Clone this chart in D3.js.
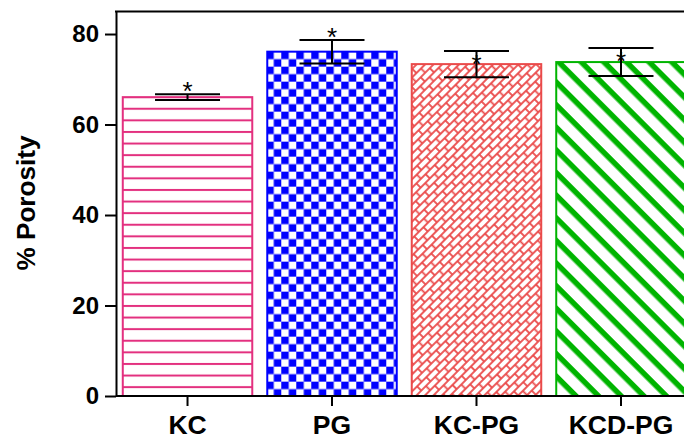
<!DOCTYPE html>
<html>
<head>
<meta charset="utf-8">
<script src="https://cdn.jsdelivr.net/npm/d3@7/dist/d3.min.js"></script>
<style>
  html, body { margin: 0; padding: 0; background: #fff; }
  svg { display: block; }
</style>
</head>
<body>
<div id="chart"></div>
<script>
// ---- data ----
const categories = ["KC", "PG", "KC-PG", "KCD-PG"];
const porosity   = [66.05, 76.1, 73.35, 73.8];
const errors     = [0.65, 2.6, 2.9, 3.1];
const starLevels = [68.6, 80.5, 74.6, 75.1];
const yTicks     = [0, 20, 40, 60, 80];
const yLabel     = "% Porosity";

// ---- layout ----
const W = 684, H = 441;
const svg = d3.select("#chart").append("svg").attr("width", W).attr("height", H);
const font = "'Liberation Sans', Arial, Helvetica, sans-serif";

const y = d3.scaleLinear().domain([0, 85]).range([396, 11.4]);
const x = d3.scaleBand().domain(categories).range([116, 692.5]).paddingInner(0.09).paddingOuter(0.04);

const colors = ["#e3307f", "#0000ff", "#ea4a4a", "#00b400"];
const defs = svg.append("defs");

function barX(i) { return x(categories[i]); }
function barY(i) { return y(porosity[i]); }

// pattern 0: horizontal lines
{
  const p = defs.append("pattern").attr("id", "pat0").attr("patternUnits", "userSpaceOnUse")
    .attr("x", barX(0)).attr("y", barY(0)).attr("width", 20).attr("height", 11.6);
  p.append("rect").attr("width", 20).attr("height", 11.6).attr("fill", "#fff");
  p.append("rect").attr("x", 0).attr("y", -1).attr("width", 20).attr("height", 2).attr("fill", colors[0]);
  p.append("rect").attr("x", 0).attr("y", 10.6).attr("width", 20).attr("height", 2).attr("fill", colors[0]);
}
// pattern 1: checkerboard
{
  const s = 7.5;
  const p = defs.append("pattern").attr("id", "pat1").attr("patternUnits", "userSpaceOnUse")
    .attr("x", barX(1)).attr("y", barY(1)).attr("width", 2 * s).attr("height", 2 * s);
  p.append("rect").attr("width", 2 * s).attr("height", 2 * s).attr("fill", "#fff");
  p.append("rect").attr("x", 0).attr("y", 0).attr("width", s).attr("height", s).attr("fill", colors[1]);
  p.append("rect").attr("x", s).attr("y", s).attr("width", s).attr("height", s).attr("fill", colors[1]);
}
// pattern 2: diagonal bricks
{
  const bw = 13, bh = 12;
  const p = defs.append("pattern").attr("id", "pat2").attr("patternUnits", "userSpaceOnUse")
    .attr("x", barX(2)).attr("y", barY(2)).attr("width", bw).attr("height", bh)
    .attr("patternTransform", "rotate(-45)");
  p.append("rect").attr("width", bw).attr("height", bh).attr("fill", "#fff");
  const segs = [[0, 0, bw, 0], [0, bh / 2, bw, bh / 2], [0, bh, bw, bh], [1, 0, 1, bh / 2], [1 + bw / 2, bh / 2, 1 + bw / 2, bh]];
  segs.forEach(s => {
    p.append("line").attr("x1", s[0]).attr("y1", s[1]).attr("x2", s[2]).attr("y2", s[3])
      .attr("stroke", colors[2]).attr("stroke-width", 1.8);
  });
}
// pattern 3: diagonal stripes
{
  const per = 16, th = 5.5;
  const p = defs.append("pattern").attr("id", "pat3").attr("patternUnits", "userSpaceOnUse")
    .attr("x", barX(3)).attr("y", barY(3)).attr("width", per).attr("height", per)
    .attr("patternTransform", "rotate(45)");
  p.append("rect").attr("width", per).attr("height", per).attr("fill", "#fff");
  p.append("rect").attr("x", 0).attr("y", 0).attr("width", per).attr("height", th).attr("fill", colors[3]);
}

// bars
svg.append("g").selectAll("rect").data(categories).join("rect")
  .attr("x", (d, i) => barX(i) + 1)
  .attr("y", (d, i) => barY(i))
  .attr("width", x.bandwidth() - 2)
  .attr("height", (d, i) => y(0) - barY(i))
  .attr("fill", (d, i) => `url(#pat${i})`)
  .attr("stroke", (d, i) => colors[i])
  .attr("stroke-width", 2);

// error bars
const capHalf = 32.5;
const eb = svg.append("g").attr("stroke", "#000").attr("stroke-width", 2);
categories.forEach((c, i) => {
  const cx = x(c) + x.bandwidth() / 2;
  const top = y(porosity[i] + errors[i]), bot = y(porosity[i] - errors[i]);
  eb.append("line").attr("x1", cx).attr("x2", cx).attr("y1", top).attr("y2", bot);
  eb.append("line").attr("x1", cx - capHalf).attr("x2", cx + capHalf).attr("y1", top).attr("y2", top);
  eb.append("line").attr("x1", cx - capHalf).attr("x2", cx + capHalf).attr("y1", bot).attr("y2", bot);
});

// stars
const starSize = 26;
svg.append("g").selectAll("text").data(categories).join("text")
  .attr("x", d => x(d) + x.bandwidth() / 2)
  .attr("y", (d, i) => y(starLevels[i]) + 0.55 * starSize)
  .attr("text-anchor", "middle")
  .attr("font-family", font).attr("font-size", starSize).attr("fill", "#000")
  .text("*");

// axes
const yAxis = svg.append("g").attr("transform", "translate(116,0)")
  .call(d3.axisLeft(y).tickValues(yTicks).tickSize(11).tickSizeOuter(0).tickPadding(6));
yAxis.selectAll("path, line").attr("stroke", "#000").attr("stroke-width", 2);
yAxis.selectAll("text").attr("font-family", font).attr("font-size", 24).attr("font-weight", "bold").attr("fill", "#000");

const xAxis = svg.append("g").attr("transform", "translate(0,396)")
  .call(d3.axisBottom(x).tickSize(10).tickSizeOuter(0).tickPadding(9));
xAxis.select("path.domain").attr("d", `M116,0H${W + 5}`);
xAxis.selectAll("path, line").attr("stroke", "#000").attr("stroke-width", 2);
xAxis.selectAll("text").attr("font-family", font).attr("font-size", 26.5).attr("font-weight", "bold").attr("fill", "#000");

// top frame
svg.append("line").attr("x1", 115).attr("x2", W + 5).attr("y1", y(85)).attr("y2", y(85))
  .attr("stroke", "#000").attr("stroke-width", 2);

// y label
svg.append("text")
  .attr("transform", `translate(35,203) rotate(-90)`)
  .attr("text-anchor", "middle")
  .attr("font-family", font).attr("font-size", 25).attr("font-weight", "bold")
  .attr("textLength", 135).attr("lengthAdjust", "spacingAndGlyphs")
  .text(yLabel);
</script>
</body>
</html>
